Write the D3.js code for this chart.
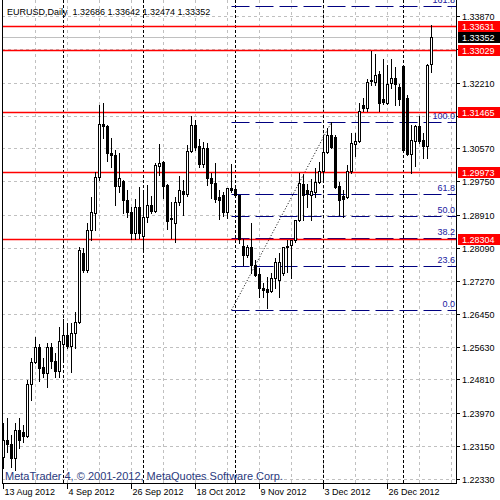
<!DOCTYPE html>
<html>
<head>
<meta charset="utf-8">
<script src="https://cdn.jsdelivr.net/npm/d3@7/dist/d3.min.js"></script>
<style>
  html, body { margin: 0; padding: 0; background: #fff; }
  svg { display: block; }
  text { font-family: "Liberation Sans", Arial, sans-serif; }
</style>
</head>
<body>
<div id="chart"></div>
<script>
// EURUSD daily bars, 13 Aug 2012 .. Jan 2013 (one entry per bar)
const opens = [
  1.2288, 1.2330, 1.2320, 1.2285, 1.2355, 1.2350, 1.2340, 1.2470, 1.2525, 1.2562,
  1.2512, 1.2497, 1.2562, 1.2527, 1.2502, 1.2570, 1.2592, 1.2565, 1.2597, 1.2624,
  1.2796, 1.2754, 1.2854, 1.2896, 1.2986, 1.3118, 1.3113, 1.3046, 1.3041, 1.2963,
  1.2976, 1.2928, 1.2899, 1.2846, 1.2911, 1.2839, 1.2886, 1.2916, 1.2901, 1.3013,
  1.3023, 1.2966, 1.2884, 1.2871, 1.2923, 1.2951, 1.2943, 1.3051, 1.3115, 1.3063,
  1.3018, 1.3058, 1.2983, 1.2971, 1.2936, 1.2941, 1.2899, 1.2958, 1.2956, 1.2941,
  1.2814, 1.2791, 1.2811, 1.2766, 1.2744, 1.2709, 1.2707, 1.2702, 1.2734, 1.2729,
  1.2746, 1.2811, 1.2816, 1.2829, 1.2879, 1.2968, 1.2953, 1.2941, 1.2948, 1.2973,
  1.3001, 1.3048, 1.3091, 1.3086, 1.2963, 1.2938, 1.2936, 1.3001, 1.3068, 1.3076,
  1.3165, 1.3158, 1.3228, 1.3223, 1.3243, 1.3180, 1.3170, 1.3220, 1.3233, 1.3210,
  1.3262, 1.3183, 1.3043, 1.3076, 1.3113, 1.3078, 1.3063, 1.32686
];
const highs = [
  1.2373, 1.2385, 1.2343, 1.2373, 1.2385, 1.2368, 1.2480, 1.2535, 1.2587, 1.2570,
  1.2535, 1.2572, 1.2572, 1.2547, 1.2612, 1.2632, 1.2622, 1.2622, 1.2649, 1.2811,
  1.2809, 1.2871, 1.2936, 1.2998, 1.3165, 1.3170, 1.3115, 1.3083, 1.3053, 1.3046,
  1.2978, 1.2953, 1.2911, 1.2931, 1.2961, 1.2953, 1.2966, 1.2938, 1.3021, 1.3068,
  1.3026, 1.2968, 1.2923, 1.2936, 1.2988, 1.2978, 1.3066, 1.3138, 1.3128, 1.3081,
  1.3073, 1.3071, 1.2996, 1.3021, 1.2953, 1.2948, 1.2958, 1.3018, 1.2958, 1.2942,
  1.2831, 1.2816, 1.2871, 1.2779, 1.2759, 1.2722, 1.2737, 1.2746, 1.2784, 1.2796,
  1.2811, 1.2829, 1.2829, 1.2879, 1.2996, 1.2991, 1.2968, 1.2981, 1.3008, 1.3023,
  1.3091, 1.3108, 1.3123, 1.3091, 1.2973, 1.2953, 1.3016, 1.3096, 1.3096, 1.3170,
  1.3183, 1.3230, 1.3300, 1.3292, 1.3250, 1.3280, 1.3265, 1.3280, 1.3260, 1.3218,
  1.3265, 1.3190, 1.3115, 1.3115, 1.3138, 1.3096, 1.3267, 1.33642
];
const lows = [
  1.2260, 1.2300, 1.2263, 1.2255, 1.2310, 1.2325, 1.2338, 1.2430, 1.2522, 1.2477,
  1.2487, 1.2462, 1.2510, 1.2487, 1.2487, 1.2530, 1.2560, 1.2500, 1.2560, 1.2622,
  1.2749, 1.2749, 1.2829, 1.2854, 1.2978, 1.3083, 1.3026, 1.3011, 1.2916, 1.2948,
  1.2896, 1.2886, 1.2831, 1.2831, 1.2834, 1.2801, 1.2874, 1.2896, 1.2899, 1.2991,
  1.2933, 1.2856, 1.2834, 1.2824, 1.2916, 1.2891, 1.2938, 1.3049, 1.3053, 1.3011,
  1.3011, 1.2966, 1.2933, 1.2923, 1.2881, 1.2889, 1.2884, 1.2948, 1.2938, 1.2821,
  1.2766, 1.2786, 1.2746, 1.2740, 1.2687, 1.2687, 1.2659, 1.2699, 1.2709, 1.2687,
  1.2741, 1.2749, 1.2734, 1.2824, 1.2877, 1.2879, 1.2911, 1.2879, 1.2936, 1.2971,
  1.2978, 1.3046, 1.3059, 1.2959, 1.2891, 1.2886, 1.2933, 1.2996, 1.3038, 1.3073,
  1.3150, 1.3150, 1.3215, 1.3215, 1.3150, 1.3168, 1.3168, 1.3208, 1.3165, 1.3165,
  1.3051, 1.3041, 1.2996, 1.3013, 1.3071, 1.3033, 1.3033, 1.32474
];
const closes = [
  1.2330, 1.2320, 1.2285, 1.2355, 1.2330, 1.2340, 1.2470, 1.2525, 1.2562, 1.2510,
  1.2497, 1.2562, 1.2527, 1.2502, 1.2577, 1.2592, 1.2565, 1.2597, 1.2624, 1.2804,
  1.2754, 1.2854, 1.2899, 1.2986, 1.3118, 1.3113, 1.3046, 1.3041, 1.2963, 1.2983,
  1.2928, 1.2899, 1.2846, 1.2911, 1.2846, 1.2886, 1.2916, 1.2901, 1.3016, 1.3021,
  1.2963, 1.2876, 1.2881, 1.2923, 1.2953, 1.2943, 1.3051, 1.3115, 1.3061, 1.3018,
  1.3058, 1.2983, 1.2971, 1.2931, 1.2928, 1.2899, 1.2958, 1.2953, 1.2941, 1.2831,
  1.2791, 1.2811, 1.2766, 1.2741, 1.2709, 1.2704, 1.2699, 1.2734, 1.2774, 1.2774,
  1.2811, 1.2814, 1.2829, 1.2879, 1.2971, 1.2941, 1.2943, 1.2951, 1.2973, 1.3001,
  1.3048, 1.3091, 1.3061, 1.2961, 1.2928, 1.2931, 1.3001, 1.3071, 1.3076, 1.3150,
  1.3158, 1.3223, 1.3225, 1.3240, 1.3170, 1.3173, 1.3218, 1.3233, 1.3218, 1.3180,
  1.3053, 1.3043, 1.3078, 1.3113, 1.3076, 1.3063, 1.3265, 1.33352
];

const dateLabels = ["13 Aug 2012", "4 Sep 2012", "26 Sep 2012", "18 Oct 2012", "9 Nov 2012", "3 Dec 2012", "26 Dec 2012"];
const dateLabelBars = [0, 16, 32, 48, 64, 80, 96];
const gridBars = [8, 16, 24, 32, 40, 48, 56, 64, 72, 80, 88, 96, 104, 112];
const separatorBars = [15, 35, 58, 80, 100];

const priceTicks = [1.33870, 1.33050, 1.32210, 1.31390, 1.30570, 1.29750, 1.28910, 1.28090,
                    1.27270, 1.26450, 1.25630, 1.24810, 1.23970, 1.23150, 1.22330];
const levelPrices = [1.33631, 1.33029, 1.31465, 1.29973, 1.28304];
const currentPrice = 1.33352;

const fibLevels = [0.0, 23.6, 38.2, 50.0, 61.8, 100.0, 161.8];
const fibLowPrice = 1.26542, fibHighPrice = 1.31228;
const fibLowBar = 57, fibHighBar = 82;

const title = "EURUSD,Daily  1.32686 1.33642 1.32474 1.33352";
const watermark = "MetaTrader 4, \u00A9 2001-2012, MetaQuotes Software Corp.";

// ---- layout
const W = 500, H = 500;
const left = 2, right = 456, bottom = 483;

const x = d3.scaleLinear().domain([0, 113]).range([3.5, 455.5]);
const y = d3.scaleLinear().domain([1.22330, 1.33870]).range([479, 16]);

const snap = v => Math.floor(v) + 0.5;
const rnd = v => Math.round(v) + 0.5;

const svg = d3.select("#chart").append("svg")
  .attr("width", W).attr("height", H);

const plot = svg.append("g");
plot.append("clipPath").attr("id", "plotclip")
  .append("rect").attr("x", left).attr("y", 0).attr("width", right - left).attr("height", bottom);

// grid
const grid = plot.append("g").attr("stroke", "#c0c0c0").attr("stroke-dasharray", "3,3");
grid.selectAll("line.h").data(priceTicks).join("line")
  .attr("x1", left).attr("x2", right)
  .attr("y1", d => rnd(y(d))).attr("y2", d => rnd(y(d)));
grid.selectAll("line.v").data(gridBars).join("line")
  .attr("x1", d => snap(x(d))).attr("x2", d => snap(x(d)))
  .attr("y1", 0).attr("y2", bottom);

// period separators
plot.append("g").attr("stroke", "#000").attr("stroke-dasharray", "3,2")
  .selectAll("line").data(separatorBars).join("line")
  .attr("x1", d => snap(x(d))).attr("x2", d => snap(x(d)))
  .attr("y1", 0).attr("y2", bottom);

// current price line
plot.append("line")
  .attr("x1", left).attr("x2", right)
  .attr("y1", rnd(y(currentPrice))).attr("y2", rnd(y(currentPrice)))
  .attr("stroke", "#c0c0c0");

// fibonacci
const fibPrice = lv => fibLowPrice + (fibHighPrice - fibLowPrice) * lv / 100;
const fib = plot.append("g").attr("clip-path", "url(#plotclip)");
fib.selectAll("line").data(fibLevels).join("line")
  .attr("x1", snap(x(fibLowBar))).attr("x2", right)
  .attr("y1", d => rnd(y(fibPrice(d)))).attr("y2", d => rnd(y(fibPrice(d))))
  .attr("stroke", "#000080").attr("stroke-dasharray", "18,6");
fib.selectAll("text").data(fibLevels).join("text")
  .attr("x", right - 1).attr("y", d => Math.round(y(fibPrice(d))) - 3)
  .attr("text-anchor", "end").attr("font-size", 9).attr("fill", "#2020a0")
  .text(d => d.toFixed(1));
fib.append("line")
  .attr("x1", x(fibLowBar)).attr("y1", y(fibLowPrice))
  .attr("x2", x(fibHighBar)).attr("y2", y(fibHighPrice))
  .attr("stroke", "#000").attr("stroke-dasharray", "1,2");

// horizontal levels
plot.append("g").attr("stroke", "#ff0000").attr("stroke-width", 1.3)
  .selectAll("line").data(levelPrices).join("line")
  .attr("x1", left).attr("x2", right)
  .attr("y1", d => Math.round(y(d)) + 0.5).attr("y2", d => Math.round(y(d)) + 0.5);

// candles
const bars = d3.range(opens.length);
const candles = plot.append("g");
candles.selectAll("line").data(bars).join("line")
  .attr("x1", i => snap(x(i))).attr("x2", i => snap(x(i)))
  .attr("y1", i => Math.round(y(highs[i]))).attr("y2", i => Math.round(y(lows[i])) + 1)
  .attr("stroke", "#000");
candles.selectAll("rect").data(bars).join("rect")
  .attr("x", i => snap(x(i)) - 1)
  .attr("width", 2)
  .attr("y", i => Math.round(y(Math.max(opens[i], closes[i]))) + 0.5)
  .attr("height", i => Math.max(1, Math.round(y(Math.min(opens[i], closes[i]))) - Math.round(y(Math.max(opens[i], closes[i])))))
  .attr("fill", i => closes[i] >= opens[i] ? "#fff" : "#000")
  .attr("stroke", "#000");

// frame
svg.append("line").attr("x1", left + 0.5).attr("x2", left + 0.5).attr("y1", 0).attr("y2", bottom + 0.5).attr("stroke", "#000");
svg.append("line").attr("x1", right + 0.5).attr("x2", right + 0.5).attr("y1", 0).attr("y2", bottom + 0.5).attr("stroke", "#000");
svg.append("line").attr("x1", left).attr("x2", right + 1).attr("y1", bottom + 0.5).attr("y2", bottom + 0.5).attr("stroke", "#000");

// price axis (labels that sit right under a level box are left out, as in the terminal)
const boxPrices = levelPrices.concat([currentPrice]);
const covered = d => boxPrices.some(p => Math.abs(y(p) - y(d)) < 5);
const pAxis = svg.append("g");
pAxis.selectAll("line").data(priceTicks).join("line")
  .attr("x1", right + 1).attr("x2", right + 4)
  .attr("y1", d => rnd(y(d))).attr("y2", d => rnd(y(d)))
  .attr("stroke", "#000");
pAxis.selectAll("text").data(priceTicks.filter(d => !covered(d))).join("text")
  .attr("x", right + 6).attr("y", d => Math.round(y(d)) + 4)
  .attr("font-size", 9).attr("fill", "#000")
  .text(d => d.toFixed(5));

// price boxes
const boxes = levelPrices.map(p => ({ p, bg: "#ff0000" })).concat([{ p: currentPrice, bg: "#000" }]);
const box = svg.append("g").selectAll("g").data(boxes).join("g")
  .attr("transform", d => `translate(${right + 2},${Math.round(y(d.p)) - 5})`);
box.append("rect").attr("width", W - right - 2).attr("height", 11).attr("fill", d => d.bg);
box.append("text").attr("x", 4).attr("y", 9).attr("font-size", 9).attr("fill", "#fff")
  .text(d => d.p.toFixed(5));

// time axis
const tAxis = svg.append("g");
tAxis.selectAll("line").data(dateLabelBars).join("line")
  .attr("x1", i => snap(x(i))).attr("x2", i => snap(x(i)))
  .attr("y1", bottom + 1).attr("y2", bottom + 6)
  .attr("stroke", "#000");
tAxis.selectAll("text").data(dateLabelBars).join("text")
  .attr("x", i => snap(x(i)) + 1).attr("y", 495)
  .attr("font-size", 9).attr("fill", "#000")
  .text((i, k) => dateLabels[k]);

// captions
svg.append("text").attr("x", 7).attr("y", 15).attr("font-size", 9).attr("fill", "#000")
  .attr("xml:space", "preserve").style("white-space", "pre").text(title);
svg.append("text").attr("x", 5).attr("y", 480).attr("font-size", 11).attr("fill", "#2b3a7e")
  .text(watermark);
</script>
</body>
</html>
